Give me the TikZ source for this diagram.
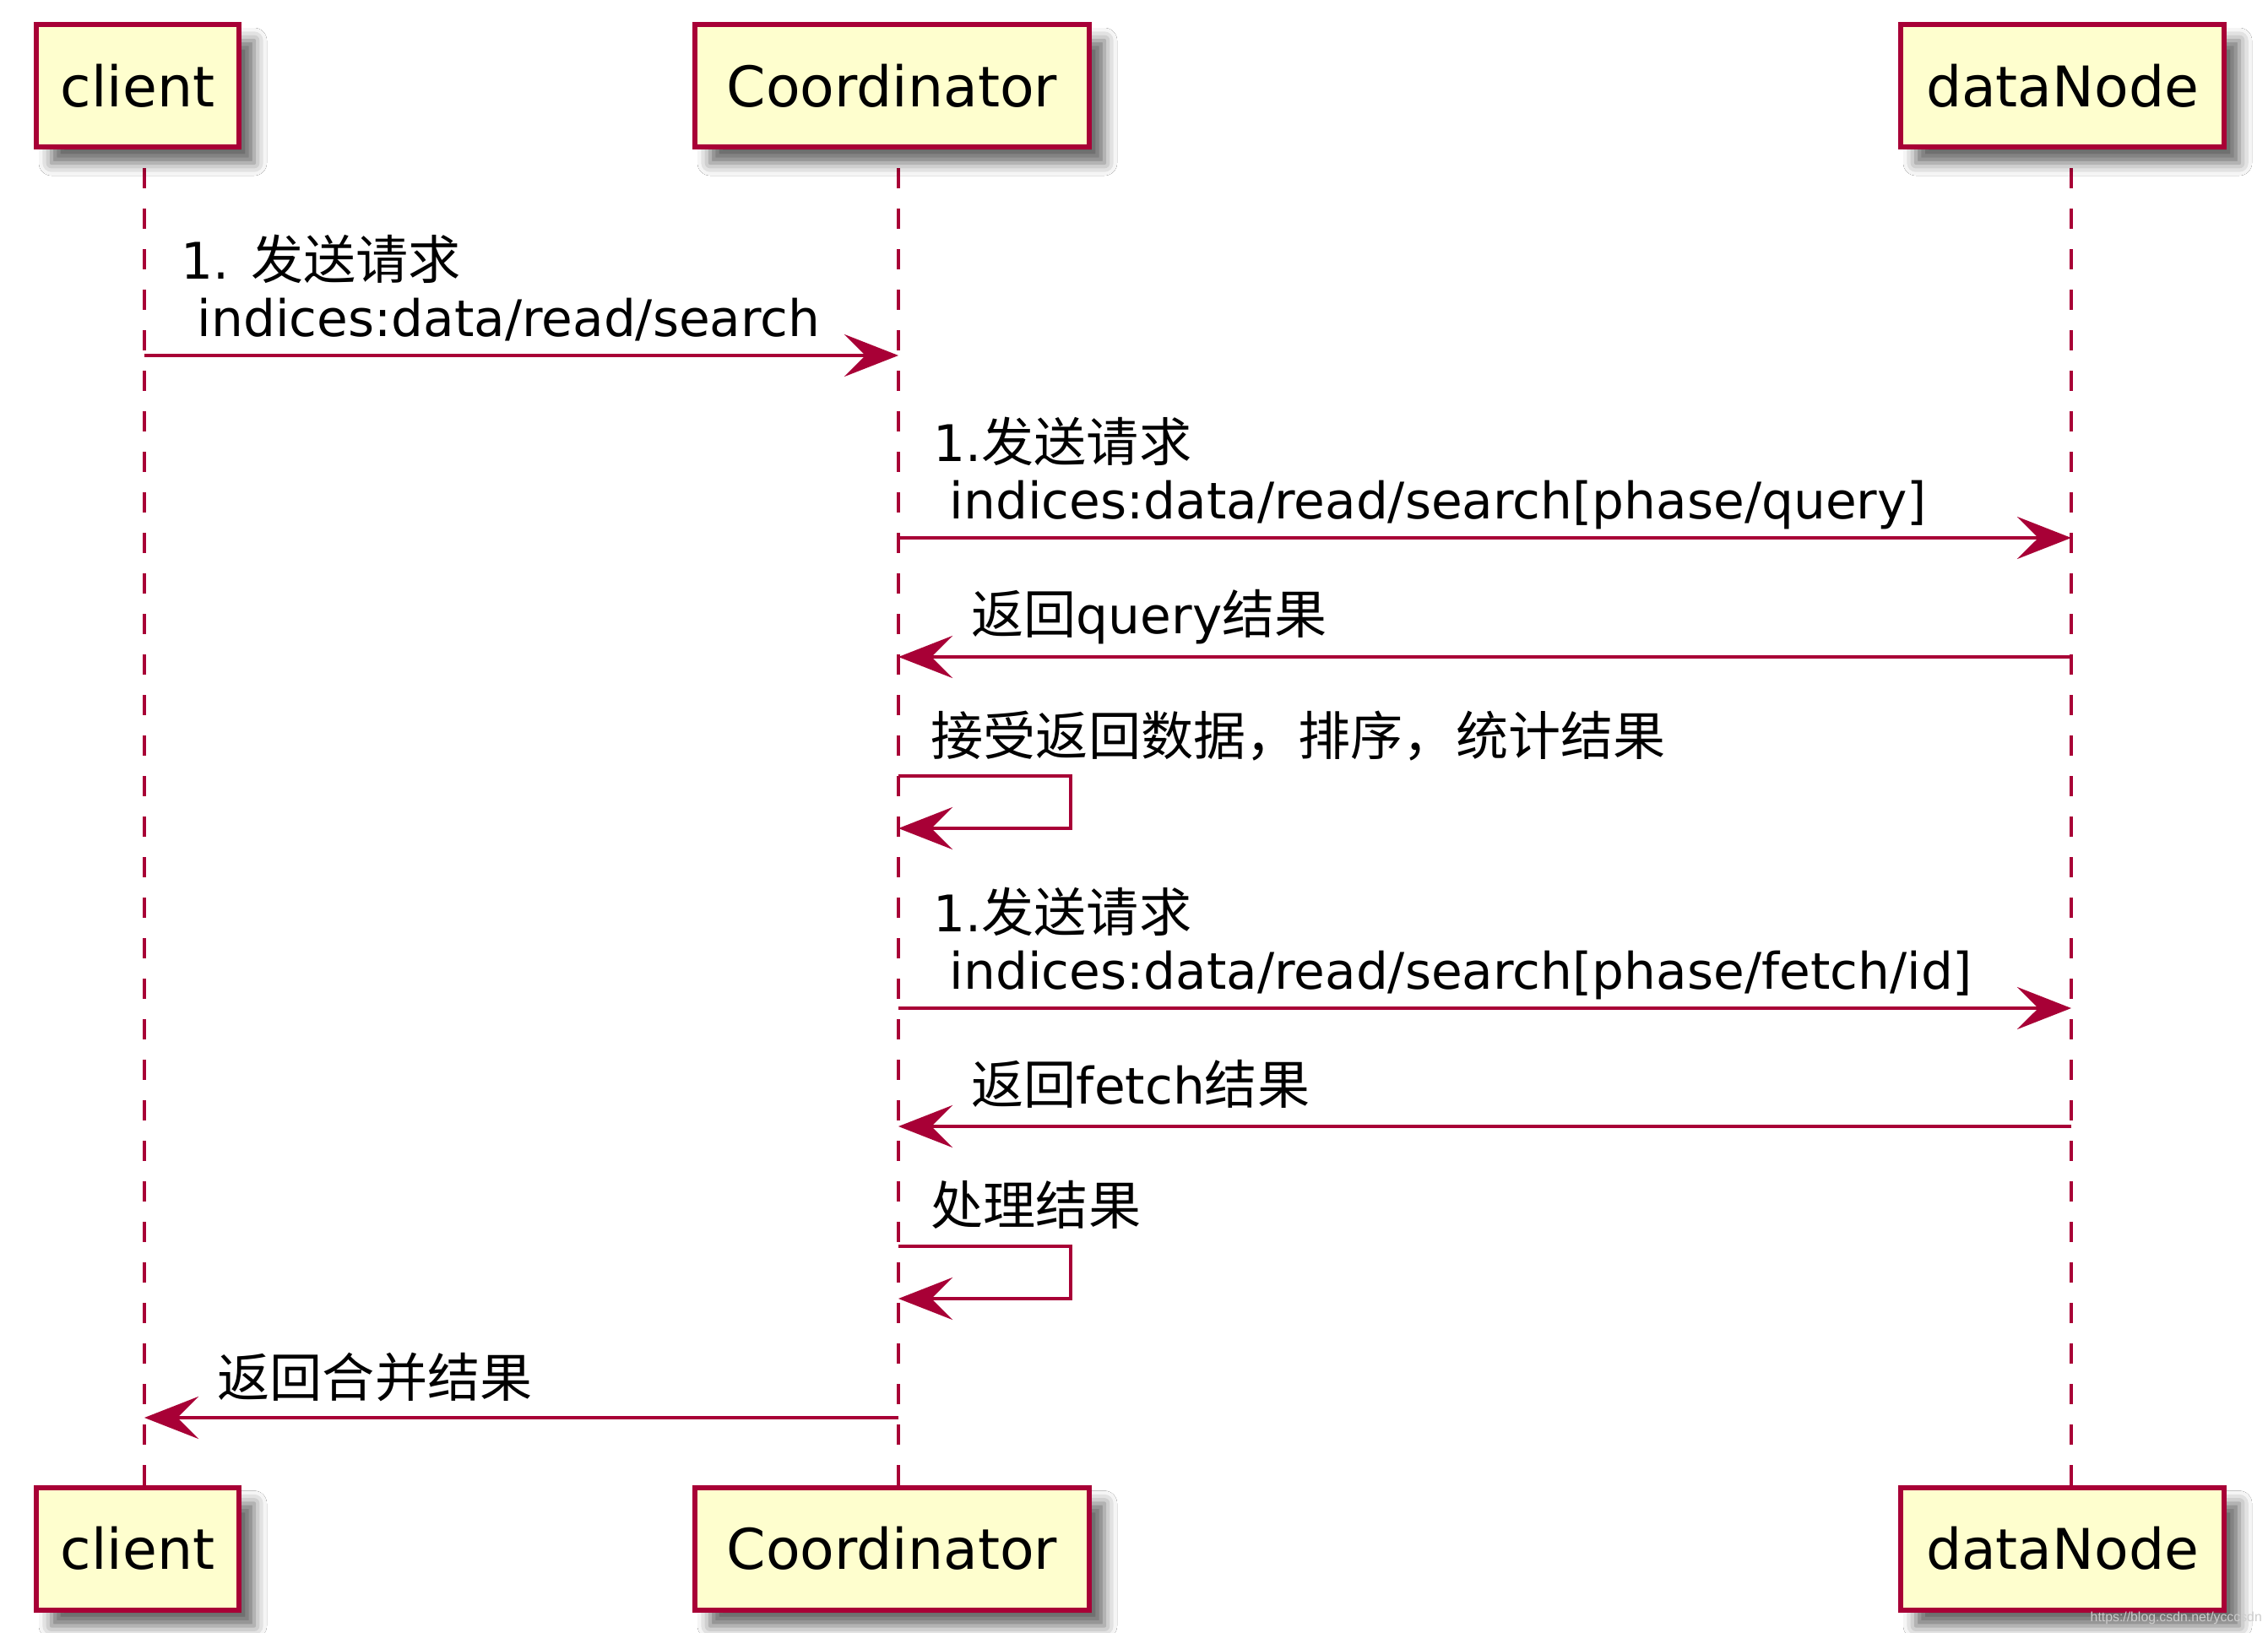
\documentclass[tikz,border=0pt]{standalone}
\usepackage{fontspec}
\setmainfont{DejaVu Sans}
\newfontfamily\cjk[Scale=1.04]{Noto Sans CJK SC}
\newfontfamily\wmfont{Liberation Sans}
\usetikzlibrary{arrows.meta,backgrounds,shadows.blur}
\definecolor{umlred}{HTML}{A80036}
\definecolor{umlfill}{HTML}{FEFECE}

\begin{document}
\begin{tikzpicture}[
    participant/.style={
        draw=umlred, fill=umlfill, line width=0.6mm,
        minimum height=1.45cm, inner sep=0pt,
        font=\fontsize{18.9}{22}\selectfont,
        blur shadow={shadow xshift=1.8mm, shadow yshift=-1.9mm,
            shadow blur radius=1.5mm, shadow opacity=60}
    },
    lifeline/.style={umlred, line width=0.4mm, dash pattern=on 2.4mm off 2.4mm, dash phase=2.6mm},
    msg/.style={-{Stealth[length=6.4mm, width=5mm, inset=2.5mm]}, umlred, line width=0.45mm},
    msgtext/.style={anchor=base west, inner sep=0pt, align=left, font=\fontsize{17}{19.3}\selectfont}
]
    \useasboundingbox (0,0) rectangle (26.86,-19.34);

    % lifeline positions
    \coordinate (lc) at (1.71,0);
    \coordinate (lk) at (10.64,0);
    \coordinate (ld) at (24.53,0);

    % Participants (top)
    \node[participant, minimum width=2.40cm] (clientTop) at (1.63,-1.015) {client};
    \node[participant, minimum width=4.67cm] (coordTop) at (10.565,-1.015) {Coordinator};
    \node[participant, minimum width=3.83cm] (dataTop) at (24.425,-1.015) {dataNode};

    % Participants (bottom)
    \node[participant, minimum width=2.40cm] (clientBot) at (1.63,-18.34) {client};
    \node[participant, minimum width=4.67cm] (coordBot) at (10.565,-18.34) {Coordinator};
    \node[participant, minimum width=3.83cm] (dataBot) at (24.425,-18.34) {dataNode};

    \begin{scope}[on background layer]
        \fill[white] (0,0) rectangle (26.86,-19.34);
        \draw[lifeline] (lc |- clientTop.south) -- (lc |- clientBot.north);
        \draw[lifeline] (lk |- coordTop.south) -- (lk |- coordBot.north);
        \draw[lifeline] (ld |- dataTop.south) -- (ld |- dataBot.north);
    \end{scope}

    % Messages
    \node[msgtext] (t1) at (2.14,-3.98) {1. {\cjk 发送请求}\\\ indices:data/read/search};
    \draw[msg] (lc |- 0,-4.21) -- (lk |- 0,-4.21);

    \node[msgtext] (t2) at (11.05,-6.14) {1.{\cjk 发送请求}\\\ indices:data/read/search[phase/query]};
    \draw[msg] (lk |- 0,-6.37) -- (ld |- 0,-6.37);

    \node[msgtext] (t3) at (11.50,-7.50) {{\cjk 返回}query{\cjk 结果}};
    \draw[msg] (ld |- 0,-7.78) -- (lk |- 0,-7.78);

    \node[msgtext] (t4) at (11.02,-8.94) {{\cjk 接受返回数据，排序，统计结果}};
    \coordinate (s1) at (12.68,-9.81);
    \draw[msg] (lk |- 0,-9.19) -| (s1) -- (lk |- s1);

    \node[msgtext] (t5) at (11.05,-11.71) {1.{\cjk 发送请求}\\\ indices:data/read/search[phase/fetch/id]};
    \draw[msg] (lk |- 0,-11.94) -- (ld |- 0,-11.94);

    \node[msgtext] (t6) at (11.50,-13.07) {{\cjk 返回}fetch{\cjk 结果}};
    \draw[msg] (ld |- 0,-13.34) -- (lk |- 0,-13.34);

    \node[msgtext] (t7) at (11.02,-14.50) {{\cjk 处理结果}};
    \coordinate (s2) at (12.68,-15.38);
    \draw[msg] (lk |- 0,-14.76) -| (s2) -- (lk |- s2);

    \node[msgtext] (t8) at (2.57,-16.54) {{\cjk 返回合并结果}};
    \draw[msg] (lk |- 0,-16.79) -- (lc |- 0,-16.79);

    % watermark
    \node[anchor=base west, inner sep=0pt, text=gray!40, font=\wmfont\fontsize{4.5}{5}\selectfont] (wm) at (24.75,-19.20) {https://blog.csdn.net/ycccsdn};

\end{tikzpicture}
\end{document}
